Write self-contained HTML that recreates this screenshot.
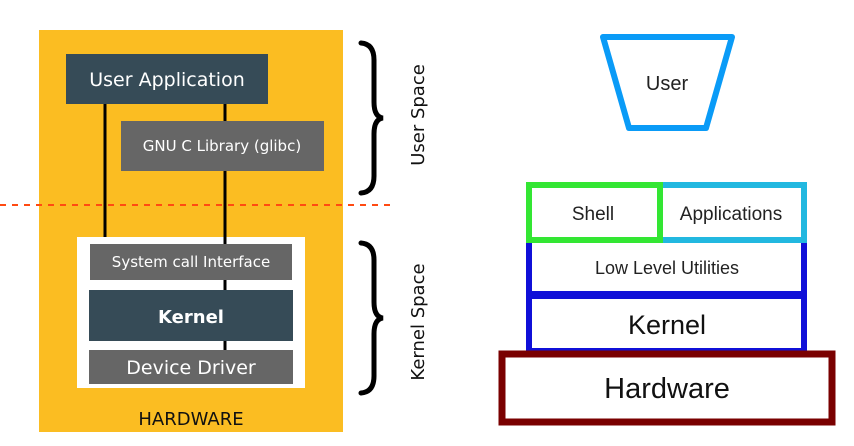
<!DOCTYPE html>
<html><head><meta charset="utf-8"><style>
html,body{margin:0;padding:0;background:#fff;}
svg{display:block;}
</style></head><body>
<svg width="854" height="446" viewBox="0 0 854 446" xmlns="http://www.w3.org/2000/svg" font-family="DejaVu Sans, Liberation Sans, sans-serif">
<rect x="39" y="30" width="304" height="402" fill="#FBBD22"/>
<line x1="105" y1="104" x2="105" y2="244" stroke="#000" stroke-width="3"/>
<line x1="225" y1="104" x2="225" y2="350" stroke="#000" stroke-width="3"/>
<rect x="66" y="54" width="202" height="50" fill="#364B57"/>
<text x="167" y="86" fill="#fff" font-size="19" text-anchor="middle">User Application</text>
<rect x="121" y="121" width="203" height="50" fill="#666"/>
<text x="222" y="151" fill="#fff" font-size="15" text-anchor="middle">GNU C Library (glibc)</text>
<line x1="0" y1="205" x2="390" y2="205" stroke="#FF4A12" stroke-width="2" stroke-dasharray="6,6"/>
<rect x="77" y="237" width="228" height="151" fill="#fff"/>
<line x1="225" y1="237" x2="225" y2="350" stroke="#000" stroke-width="3"/>
<rect x="90" y="244" width="202" height="36" fill="#666"/>
<text x="191" y="267" fill="#fff" font-size="15" text-anchor="middle">System call Interface</text>
<rect x="89" y="290" width="204" height="51" fill="#364B57"/>
<text x="191" y="323" fill="#fff" font-size="18" font-weight="bold" text-anchor="middle">Kernel</text>
<rect x="89" y="350" width="204" height="34" fill="#666"/>
<text x="191" y="374" fill="#fff" font-size="19" text-anchor="middle">Device Driver</text>
<text x="191" y="425" fill="#111" font-size="18" text-anchor="middle">HARDWARE</text>
<path d="M361,43 Q374,44 374,60 L374,102 Q374,117 383,118 Q374,119 374,134 L374,176 Q374,192 361,193" fill="none" stroke="#000" stroke-width="5" stroke-linecap="round"/>
<path d="M361,243 Q374,244 374,260 L374,302 Q374,317 383,318 Q374,319 374,334 L374,376 Q374,392 361,393" fill="none" stroke="#000" stroke-width="5" stroke-linecap="round"/>
<text transform="translate(424,115) rotate(-90)" font-size="18" text-anchor="middle" fill="#111">User Space</text>
<text transform="translate(424,322) rotate(-90)" font-size="18" text-anchor="middle" fill="#111">Kernel Space</text>
<g font-family="Liberation Sans, Arial, sans-serif">
<polygon points="603,37 732,37 706,128 629,128" fill="#fff" stroke="#0A9BF7" stroke-width="6" stroke-linejoin="round"/>
<text x="667" y="90" font-size="20" text-anchor="middle" fill="#222">User</text>
<rect x="529" y="240" width="275" height="111" fill="#fff" stroke="#1010D8" stroke-width="6"/>
<line x1="529" y1="295" x2="804" y2="295" stroke="#1010D8" stroke-width="8"/>
<rect x="660" y="185" width="144" height="55" fill="#fff" stroke="#22B8E0" stroke-width="6"/>
<rect x="529" y="185" width="131" height="55" fill="#fff" stroke="#33E633" stroke-width="6"/>
<text x="593" y="220" font-size="19" text-anchor="middle" fill="#222">Shell</text>
<text x="731" y="220" font-size="19" text-anchor="middle" fill="#222">Applications</text>
<text x="667" y="274" font-size="18" text-anchor="middle" fill="#222">Low Level Utilities</text>
<text x="667" y="334" font-size="27" text-anchor="middle" fill="#111">Kernel</text>
<rect x="502" y="354" width="330" height="68" fill="#fff" stroke="#7A0000" stroke-width="7"/>
<text x="667" y="398" font-size="29" text-anchor="middle" fill="#111">Hardware</text>
</g>
</svg>
</body></html>
